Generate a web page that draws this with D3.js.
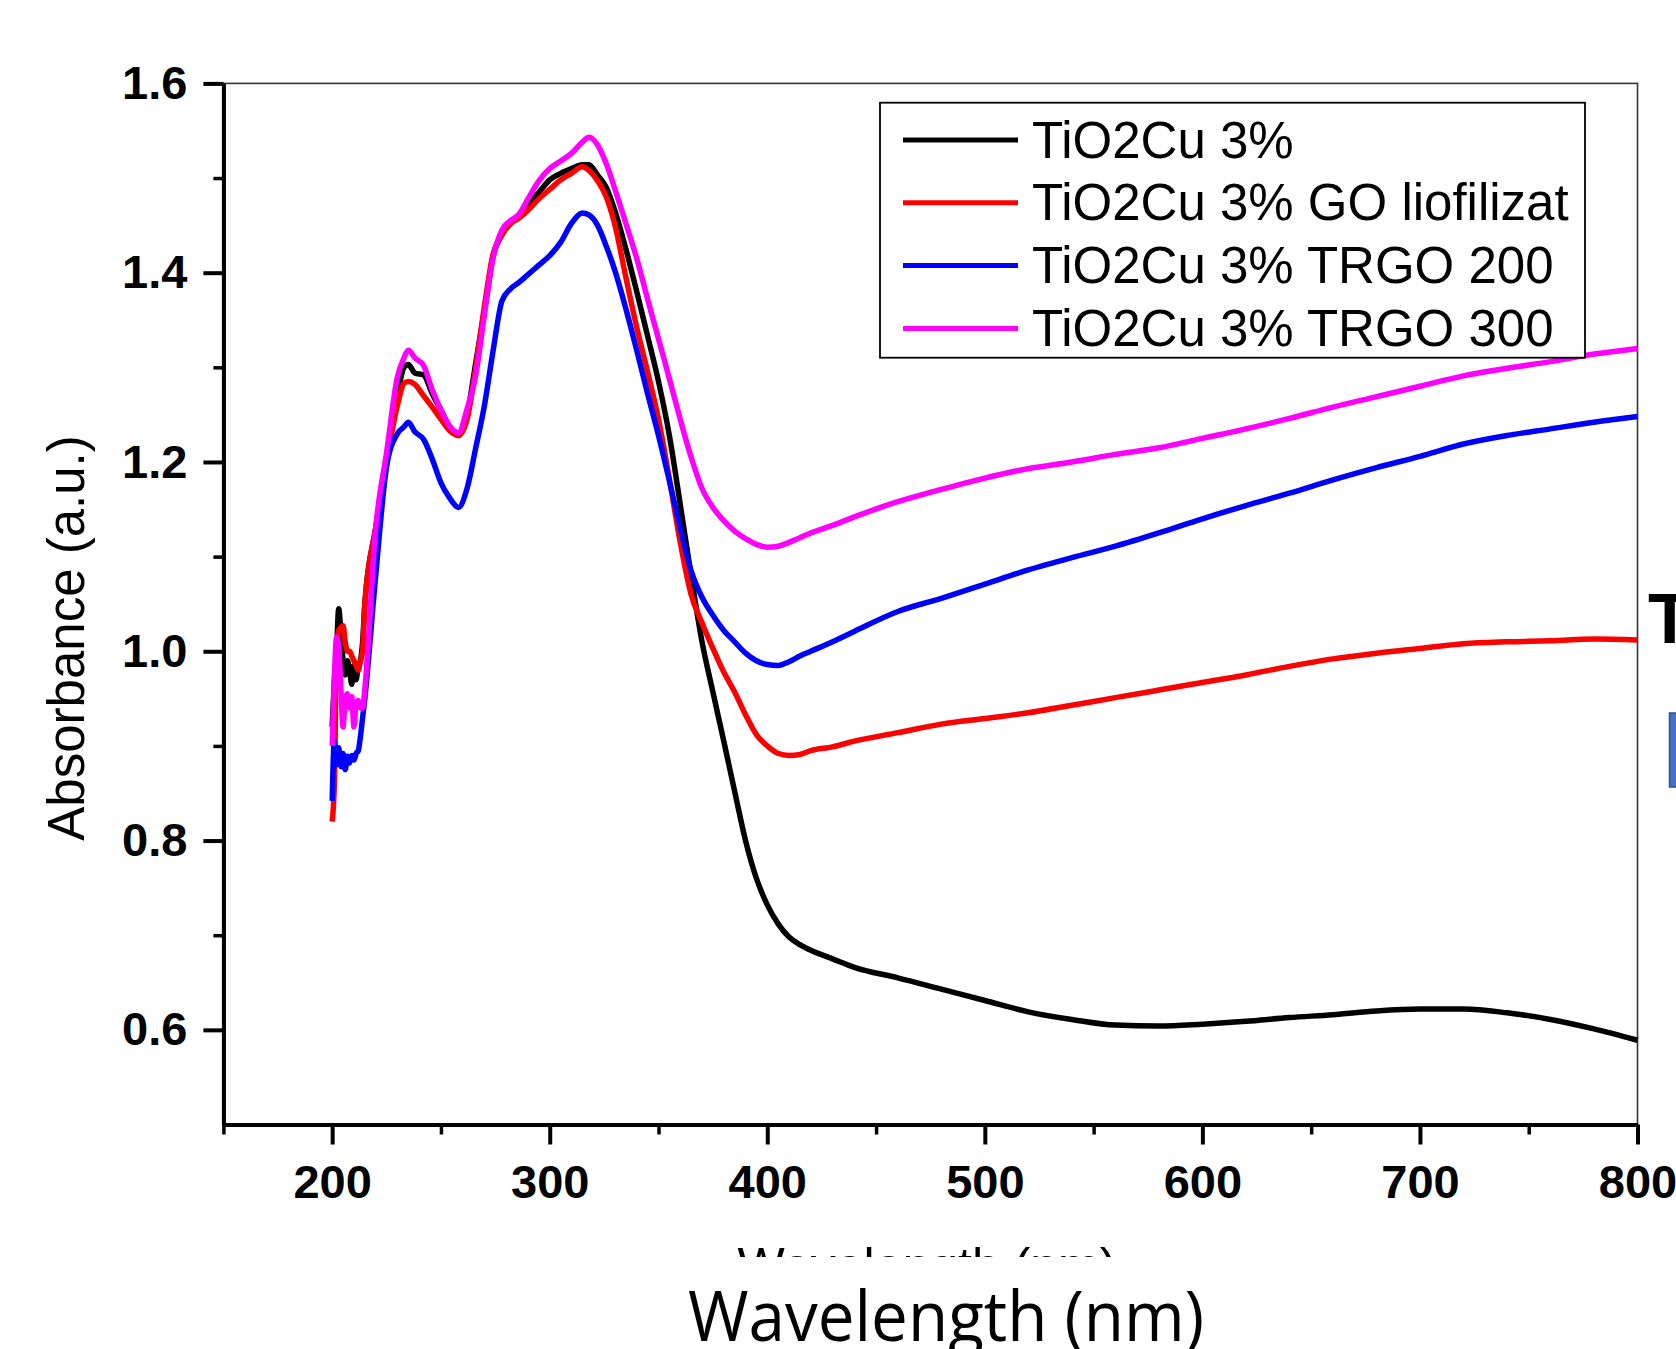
<!DOCTYPE html>
<html>
<head>
<meta charset="utf-8">
<script src="https://cdn.jsdelivr.net/npm/d3@7"></script>
<style>
  html, body { margin: 0; padding: 0; background: #fff; }
  svg { display: block; }
</style>
</head>
<body>
<div id="chart"></div>
<script>
// wavelengths (nm), shared by all four spectra
var wavelength = [200,201,202,203,204,205,206,207,208,209,210,211,212,213,214,215,
  220,225,230,233,235,238,242,246,250,254,258,262,266,270,274,278,282,286,290,
  295,300,305,310,315,318,322,326,330,335,340,345,350,355,360,365,370,375,380,
  385,390,395,400,405,410,415,420,430,440,460,480,500,520,540,560,580,600,620,
  640,660,680,700,720,740,760,780,800];

var tio2cu = [0.92,0.97,1.00,1.045,1.02,0.99,0.975,0.99,0.98,0.965,0.985,0.97,0.985,0.99,1.01,1.05,
  1.13,1.20,1.27,1.30,1.303,1.294,1.292,1.272,1.255,1.237,1.228,1.25,1.305,1.36,1.418,1.44,1.452,1.462,1.472,
  1.485,1.498,1.505,1.51,1.514,1.514,1.503,1.49,1.465,1.425,1.38,1.333,1.285,1.228,1.155,1.08,1.01,0.957,0.905,
  0.852,0.80,0.76,0.732,0.712,0.698,0.69,0.684,0.675,0.666,0.655,0.643,0.631,0.619,0.611,0.605,0.604,0.606,0.609,
  0.613,0.616,0.62,0.622,0.622,0.618,0.611,0.601,0.589];

var goLiofilizat = [0.82,0.86,1.00,1.022,1.025,1.027,1.01,1.0,1.0,0.995,0.99,0.985,0.98,0.99,1.0,1.05,
  1.13,1.20,1.26,1.283,1.285,1.282,1.27,1.258,1.245,1.233,1.228,1.245,1.30,1.365,1.42,1.44,1.452,1.458,1.466,
  1.478,1.488,1.498,1.505,1.512,1.508,1.497,1.48,1.45,1.395,1.342,1.295,1.245,1.182,1.115,1.06,1.03,1.003,0.978,
  0.957,0.933,0.912,0.90,0.892,0.89,0.891,0.895,0.899,0.905,0.914,0.923,0.929,0.935,0.943,0.951,0.959,0.967,0.975,
  0.984,0.992,0.998,1.003,1.008,1.01,1.011,1.013,1.012];

var trgo200 = [0.842,0.905,0.88,0.898,0.878,0.892,0.875,0.889,0.882,0.89,0.885,0.892,0.895,0.91,0.93,0.95,
  1.08,1.195,1.23,1.237,1.242,1.232,1.224,1.203,1.178,1.162,1.152,1.172,1.215,1.26,1.318,1.37,1.383,1.39,1.398,
  1.408,1.418,1.432,1.452,1.463,1.461,1.45,1.428,1.402,1.362,1.318,1.272,1.228,1.18,1.13,1.085,1.057,1.038,1.022,
  1.01,0.998,0.99,0.986,0.985,0.989,0.995,1.0,1.01,1.021,1.042,1.056,1.071,1.086,1.099,1.111,1.125,1.14,1.154,
  1.167,1.181,1.194,1.206,1.219,1.228,1.235,1.242,1.248];

var trgo300 = [0.90,0.97,1.015,1.005,0.96,0.92,0.95,0.955,0.94,0.952,0.92,0.945,0.948,0.94,0.94,0.96,
  1.13,1.21,1.29,1.31,1.318,1.31,1.302,1.276,1.255,1.238,1.231,1.256,1.292,1.356,1.416,1.445,1.455,1.462,1.478,
  1.497,1.51,1.518,1.526,1.538,1.543,1.535,1.515,1.488,1.452,1.415,1.372,1.33,1.288,1.245,1.205,1.172,1.152,1.138,
  1.127,1.119,1.113,1.11,1.111,1.115,1.12,1.125,1.133,1.142,1.158,1.171,1.183,1.193,1.2,1.208,1.215,1.225,1.235,
  1.246,1.258,1.269,1.28,1.291,1.299,1.306,1.314,1.32];

var seriesNames = ['TiO2Cu 3%', 'TiO2Cu 3% GO liofilizat', 'TiO2Cu 3% TRGO 200', 'TiO2Cu 3% TRGO 300'];
var seriesValues = [tio2cu, goLiofilizat, trgo200, trgo300];
var seriesColors = ['#000000', '#ff0000', '#0000ff', '#ff00ff'];

var xMajorTicks = [200, 300, 400, 500, 600, 700, 800];
var xMinorTicks = [150, 250, 350, 450, 550, 650, 750];
var yMajorTicks = [0.6, 0.8, 1.0, 1.2, 1.4, 1.6];
var yMinorTicks = [0.7, 0.9, 1.1, 1.3, 1.5];

var W = 1676, H = 1349;
var plot = {left: 223.4, right: 1637.5, top: 83.4, bottom: 1124.5};
var font = '"Liberation Sans", Arial, Helvetica, sans-serif';

var svg = d3.select('#chart').append('svg')
  .attr('width', W)
  .attr('height', H)
  .style('font-family', font);

svg.append('rect').attr('width', W).attr('height', H).attr('fill', '#fff');

var x = d3.scaleLinear().domain([150, 800]).range([plot.left, plot.right]);
var y = d3.scaleLinear().domain([0.5, 1.6]).range([plot.bottom, plot.top]);

// thin frame (top + right)
svg.append('rect')
  .attr('x', plot.left).attr('y', plot.top)
  .attr('width', plot.right - plot.left).attr('height', plot.bottom - plot.top)
  .attr('fill', 'none').attr('stroke', '#333').attr('stroke-width', 1.6);

// spectra
var line = d3.line()
  .x(function(d){ return x(d[0]); })
  .y(function(d){ return y(d[1]); })
  .curve(d3.curveMonotoneX);

seriesValues.forEach(function(vals, i){
  var pts = wavelength.map(function(w, j){ return [w, vals[j]]; });
  svg.append('path')
    .datum(pts)
    .attr('d', line)
    .attr('fill', 'none')
    .attr('stroke', seriesColors[i])
    .attr('stroke-width', 5.5)
    .attr('stroke-linejoin', 'round');
});

// axes
function styleAxis(g, sw){
  g.select('.domain').attr('stroke', '#000').attr('stroke-width', sw);
  g.selectAll('.tick line').attr('stroke', '#000').attr('stroke-width', sw);
}

var gxMinor = svg.append('g')
  .attr('transform', 'translate(0,' + plot.bottom + ')')
  .call(d3.axisBottom(x).tickValues(xMinorTicks).tickSize(10).tickSizeOuter(0).tickFormat(''));
styleAxis(gxMinor, 3.5);

var gx = svg.append('g')
  .attr('transform', 'translate(0,' + plot.bottom + ')')
  .call(d3.axisBottom(x).tickValues(xMajorTicks).tickSize(20).tickSizeOuter(0).tickPadding(20)
    .tickFormat(d3.format('d')));
styleAxis(gx, 4);
gx.selectAll('text')
  .attr('fill', '#000')
  .style('font-family', font)
  .style('font-size', '47px')
  .style('font-weight', 'bold');

var gyMinor = svg.append('g')
  .attr('transform', 'translate(' + plot.left + ',0)')
  .call(d3.axisLeft(y).tickValues(yMinorTicks).tickSize(10).tickSizeOuter(0).tickFormat(''));
styleAxis(gyMinor, 3.5);

var gy = svg.append('g')
  .attr('transform', 'translate(' + plot.left + ',0)')
  .call(d3.axisLeft(y).tickValues(yMajorTicks).tickSize(20).tickSizeOuter(0).tickPadding(16)
    .tickFormat(d3.format('.1f')));
styleAxis(gy, 4);
gy.selectAll('text')
  .attr('fill', '#000')
  .style('font-family', font)
  .style('font-size', '47px')
  .style('font-weight', 'bold');

// y axis title
svg.append('text')
  .attr('transform', 'translate(84,' + 638 + ') rotate(-90)')
  .attr('text-anchor', 'middle')
  .style('font-size', '51px')
  .attr('fill', '#000')
  .text('Absorbance (a.u.)');

// partly hidden x title (only its top shows)
svg.append('text')
  .attr('x', 927).attr('y', 1283)
  .attr('text-anchor', 'middle')
  .style('font-size', '50px')
  .attr('fill', '#000')
  .text('Wavelength (nm)');
svg.append('rect')
  .attr('x', 0).attr('y', 1257).attr('width', W).attr('height', H - 1257)
  .attr('fill', '#fff');

// large x title
svg.append('text')
  .attr('x', 946).attr('y', 1341)
  .attr('text-anchor', 'middle')
  .attr('textLength', 516)
  .attr('lengthAdjust', 'spacingAndGlyphs')
  .style('font-family', '"Open Sans", "DejaVu Sans", sans-serif')
  .style('font-size', '70px')
  .attr('fill', '#000')
  .text('Wavelength (nm)');

// legend
var legend = svg.append('g');
legend.append('rect')
  .attr('x', 880).attr('y', 102.7)
  .attr('width', 705).attr('height', 255)
  .attr('fill', '#fff').attr('stroke', '#000').attr('stroke-width', 1.8);

seriesNames.forEach(function(name, i){
  var ly = 140 + i * 62.8;
  legend.append('line')
    .attr('x1', 903).attr('x2', 1018)
    .attr('y1', ly).attr('y2', ly)
    .attr('stroke', seriesColors[i]).attr('stroke-width', 5);
  legend.append('text')
    .attr('x', 1032).attr('y', ly + 17.5)
    .style('font-size', '51px')
    .attr('fill', '#000')
    .text(name);
});

// fragment of a neighbouring figure at the right edge
svg.append('text')
  .attr('x', 1648).attr('y', 643)
  .style('font-size', '71px')
  .style('font-weight', 'bold')
  .attr('fill', '#000')
  .text('T');
svg.append('rect')
  .attr('x', 1669.5).attr('y', 713)
  .attr('width', 30).attr('height', 74)
  .attr('fill', '#4472c4').attr('stroke', '#2f528f').attr('stroke-width', 1.5);
</script>
</body>
</html>
